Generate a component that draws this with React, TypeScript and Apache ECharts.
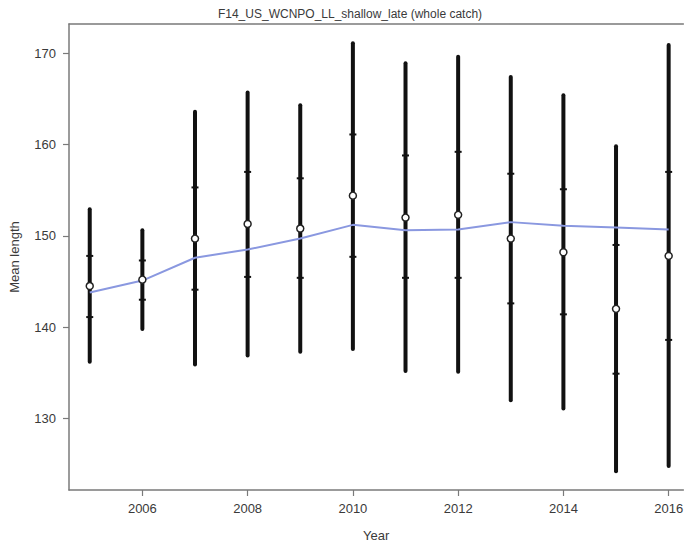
import React, { useEffect, useRef } from "react";
import * as echarts from "echarts";

// Fishery length composition summary: F14_US_WCNPO_LL_shallow_late
const years = [2005, 2006, 2007, 2008, 2009, 2010, 2011, 2012, 2013, 2014, 2015, 2016];
const upperLimit = [152.9, 150.6, 163.6, 165.7, 164.3, 171.1, 168.9, 169.6, 167.4, 165.4, 159.8, 170.9];
const upperInner = [147.8, 147.3, 155.3, 157.0, 156.3, 161.1, 158.8, 159.2, 156.8, 155.1, 149.0, 157.0];
const lowerInner = [141.1, 143.0, 144.1, 145.5, 145.4, 147.7, 145.4, 145.4, 142.6, 141.4, 134.9, 138.6];
const lowerLimit = [136.2, 139.8, 135.9, 136.9, 137.3, 137.6, 135.2, 135.1, 132.0, 131.1, 124.2, 124.8];
const observedMean = [144.5, 145.2, 149.7, 151.3, 150.8, 154.4, 152.0, 152.3, 149.7, 148.2, 142.0, 147.8];
const predictedMean = [143.8, 145.1, 147.6, 148.5, 149.7, 151.2, 150.6, 150.7, 151.5, 151.1, 150.9, 150.7];

const xTicks = [2006, 2008, 2010, 2012, 2014, 2016];
const yTicks = [130, 140, 150, 160, 170];

const FONT = "Liberation Sans, Arial, sans-serif";
const AXIS_COLOR = "#7a7a7a";
const TEXT_COLOR = "#3a3a3a";

export default function App() {
  const ref = useRef<HTMLDivElement>(null);

  useEffect(() => {
    if (!ref.current) return;
    const chart = echarts.init(ref.current, undefined, { renderer: "svg" });

    const rangeData = years.map((y, i) => [y, lowerLimit[i], lowerInner[i], upperInner[i], upperLimit[i]]);

    chart.setOption({
      animation: false,
      backgroundColor: "#ffffff",
      textStyle: { fontFamily: FONT },
      title: {
        text: "F14_US_WCNPO_LL_shallow_late (whole catch)",
        left: 345,
        top: 3,
        textAlign: "center",
        textStyle: { fontSize: 12, fontWeight: "normal", color: TEXT_COLOR, fontFamily: FONT },
      },
      grid: { left: 64, right: 0, top: 24, bottom: 56, containLabel: false },
      xAxis: [
        {
          type: "value",
          min: 2004.606,
          max: 2016.28,
          name: "Year",
          nameLocation: "middle",
          nameGap: 39,
          nameTextStyle: { fontSize: 13, color: TEXT_COLOR, fontFamily: FONT },
          axisLine: { show: true, lineStyle: { color: AXIS_COLOR, width: 1.5 } },
          axisTick: { show: true, length: 6, customValues: xTicks, lineStyle: { color: AXIS_COLOR, width: 1.2 } },
          axisLabel: {
            customValues: xTicks,
            margin: 12,
            fontSize: 13,
            color: TEXT_COLOR,
            fontFamily: FONT,
            formatter: (v: number) => String(Math.round(v)),
          },
          splitLine: { show: false },
        },
        {
          type: "value",
          position: "top",
          min: 2004.606,
          max: 2016.28,
          axisLine: { show: true, lineStyle: { color: AXIS_COLOR, width: 1.5 } },
          axisTick: { show: false },
          axisLabel: { show: false },
          splitLine: { show: false },
        },
      ],
      yAxis: {
        type: "value",
        min: 122.16,
        max: 173.2,
        name: "Mean length",
        nameLocation: "middle",
        nameGap: 48,
        nameTextStyle: { fontSize: 13, color: TEXT_COLOR, fontFamily: FONT },
        axisLine: { show: true, lineStyle: { color: AXIS_COLOR, width: 1.5 } },
        axisTick: { show: true, length: 6, customValues: yTicks, lineStyle: { color: AXIS_COLOR, width: 1.2 } },
        axisLabel: {
          customValues: yTicks,
          margin: 13,
          fontSize: 13,
          color: TEXT_COLOR,
          fontFamily: FONT,
          formatter: (v: number) => String(Math.round(v)),
        },
        splitLine: { show: false },
      },
      series: [
        {
          type: "custom",
          name: "intervals",
          data: rangeData,
          encode: { x: 0, y: [1, 2, 3, 4] },
          z: 2,
          renderItem: (params: any, api: any) => {
            const x = api.value(0);
            const pLow = api.coord([x, api.value(1)]);
            const pLowIn = api.coord([x, api.value(2)]);
            const pUpIn = api.coord([x, api.value(3)]);
            const pHigh = api.coord([x, api.value(4)]);
            const half = 3.5;
            const stroke = "#111111";
            return {
              type: "group",
              children: [
                {
                  type: "line",
                  shape: { x1: pLow[0], y1: pLow[1], x2: pHigh[0], y2: pHigh[1] },
                  style: { stroke, lineWidth: 4, lineCap: "round" },
                },
                {
                  type: "line",
                  shape: { x1: pLowIn[0] - half, y1: pLowIn[1], x2: pLowIn[0] + half, y2: pLowIn[1] },
                  style: { stroke, lineWidth: 2 },
                },
                {
                  type: "line",
                  shape: { x1: pUpIn[0] - half, y1: pUpIn[1], x2: pUpIn[0] + half, y2: pUpIn[1] },
                  style: { stroke, lineWidth: 2 },
                },
              ],
            };
          },
        },
        {
          type: "line",
          name: "predicted",
          data: years.map((y, i) => [y, predictedMean[i]]),
          showSymbol: false,
          symbol: "none",
          z: 3,
          lineStyle: { color: "#8a98e0", width: 2 },
        },
        {
          type: "scatter",
          name: "observed",
          data: years.map((y, i) => [y, observedMean[i]]),
          symbol: "circle",
          symbolSize: 7,
          z: 4,
          itemStyle: { color: "#ffffff", borderColor: "#222222", borderWidth: 1.5, opacity: 1 },
        },
      ],
    });

    return () => chart.dispose();
  }, []);

  return (
    <div
      ref={ref}
      style={{ position: "absolute", left: 0, top: 0, width: 686, height: 547, overflow: "hidden" }}
    />
  );
}
